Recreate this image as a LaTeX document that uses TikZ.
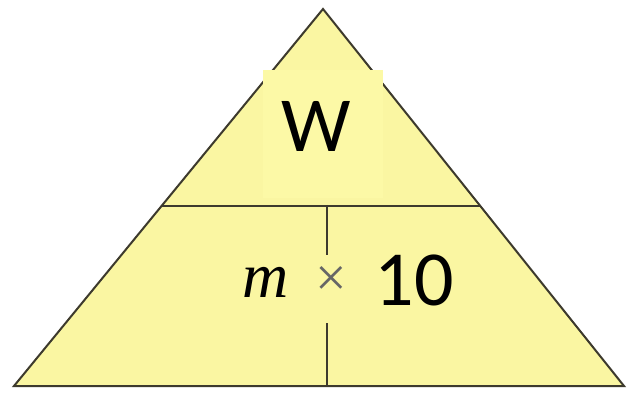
\documentclass[tikz,border=0pt]{standalone}
\usepackage{fontspec}
\usetikzlibrary{calc}
\setmainfont{Liberation Serif}
\newfontfamily\calib{Carlito}
\begin{document}
\begin{tikzpicture}[x=1pt,y=-1pt,
  edge/.style={draw=black!75!olive, line width=2pt},
  big/.style={font=\calib\fontsize{78}{80}\selectfont, text=black, inner sep=0pt}]
\definecolor{trifill}{HTML}{FAF6A2}
\definecolor{boxfill}{HTML}{FCF9A6}
\useasboundingbox (0,0) rectangle (628,395);
\fill[white] (0,0) rectangle (628,395);
\coordinate (apex) at (323,9);
\coordinate (bl) at (14,386);
\coordinate (br) at (624,386);
\fill[trifill] (apex) -- (bl) -- (br) -- cycle;
\draw[edge, line join=miter] (apex) -- (bl) -- (br) -- cycle;
\coordinate (hl) at ($(apex)!0.5225!(bl)$);
\coordinate (hr) at ($(apex)!0.5225!(br)$);
\draw[edge] (hl) -- (hr);
\fill[boxfill] (263,70) rectangle (383,198);
\coordinate (vtop) at (327,205);
\coordinate (vt2) at (327,255);
\coordinate (vb1) at (327,323);
\coordinate (vbot) at (327,386);
\draw[edge] (vtop) -- (vt2);
\draw[edge] (vb1) -- (vbot);
\node[big] (w) at (316,126) {W};
\node[big, anchor=base] (ten) at (414,305) {10};
\node[font=\itshape\fontsize{64}{66}\selectfont, inner sep=0pt, anchor=base] (m) at (266,297) {m};
\node[font=\fontsize{56}{58}\selectfont, text=black!60, inner sep=0pt] (times) at (331,281) {×};
\end{tikzpicture}
\end{document}
